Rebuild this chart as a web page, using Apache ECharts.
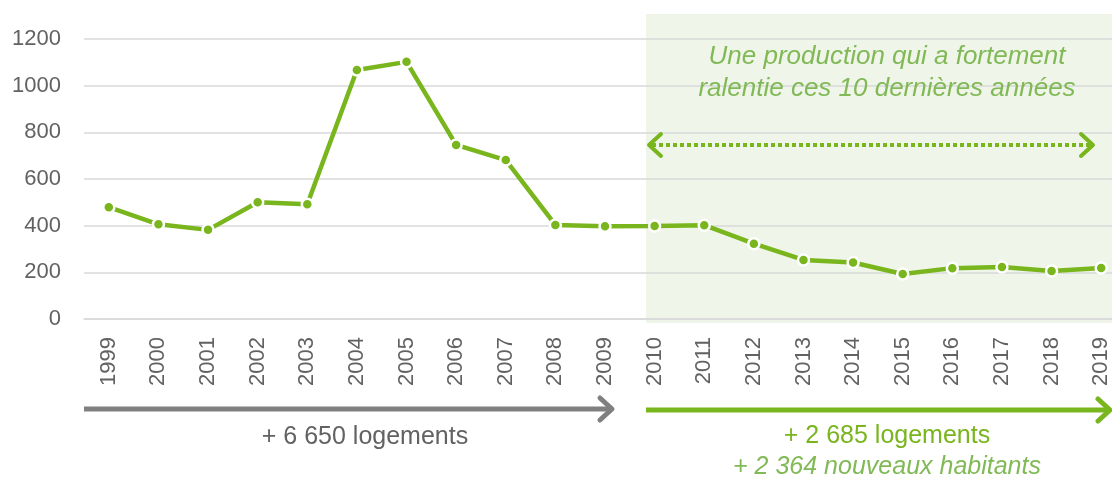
<!DOCTYPE html>
<html>
<head>
<meta charset="utf-8">
<script src="https://cdn.jsdelivr.net/npm/echarts@6/dist/echarts.min.js"></script>
<style>
  html, body { margin: 0; padding: 0; background: #fff; }
  #chart { width: 1112px; height: 481px; }
</style>
</head>
<body>
<div id="chart"></div>
<script>
// Logements produits par an
const years = ['1999','2000','2001','2002','2003','2004','2005','2006','2007','2008','2009',
               '2010','2011','2012','2013','2014','2015','2016','2017','2018','2019'];
const logements = [479, 406, 382, 500, 492, 1067, 1102, 746, 681, 403, 398,
                   399, 402, 323, 253, 242, 193, 218, 223, 206, 219];
const yTicks = [0, 200, 400, 600, 800, 1000, 1200];

const GREEN = '#79b51c';
const LIGHT_GREEN = '#80b955';
const GRAY_TEXT = '#626262';
const FONT = '"Liberation Sans", Arial, sans-serif';

const chart = echarts.init(document.getElementById('chart'));

function chevron(x, y, dir, color, w) {
  // open arrow head pointing left (dir=-1) or right (dir=1)
  return {
    type: 'polyline',
    shape: { points: [[x - dir * 12, y - 11], [x, y], [x - dir * 12, y + 11]] },
    style: { stroke: color, lineWidth: w, fill: null, lineCap: 'round', lineJoin: 'round' },
    z: 5
  };
}

function label(x, y, text, color, size, italic) {
  return {
    type: 'text', x: x, y: y, z: 5,
    style: { text: text, fill: color, fontFamily: FONT,
             fontStyle: italic ? 'italic' : 'normal', fontSize: size,
             align: 'center', verticalAlign: 'middle' }
  };
}

chart.setOption({
  animation: false,
  grid: { left: 84, width: 1042, top: 39, height: 280, outerBoundsMode: 'none', containLabel: false },
  xAxis: {
    type: 'category',
    data: years,
    boundaryGap: true,
    axisLine: { show: true, lineStyle: { color: '#d9d9d9', width: 1.5 } },
    axisTick: { show: false },
    axisLabel: {
      rotate: 90, margin: 18, interval: 0,
      color: GRAY_TEXT, fontFamily: FONT, fontSize: 22
    }
  },
  yAxis: {
    type: 'value',
    min: yTicks[0], max: yTicks[yTicks.length - 1], interval: 200,
    axisLine: { show: false },
    axisTick: { show: false },
    splitLine: { lineStyle: { color: '#d9d9d9', width: 1.5 } },
    axisLabel: { margin: 23, color: GRAY_TEXT, fontFamily: FONT, fontSize: 22,
                 formatter: v => String(v) }
  },
  series: [{
    type: 'line',
    data: logements,
    symbol: 'circle',
    symbolSize: 11,
    showAllSymbol: true,
    lineStyle: { color: GREEN, width: 4.5 },
    itemStyle: { color: GREEN, borderColor: '#fff', borderWidth: 2.5 },
    z: 3
  }],
  graphic: [
    // période 2010-2019
    { type: 'rect', shape: { x: 646, y: 14, width: 466, height: 309 },
      style: { fill: '#eff5e9' }, z: -1 },
    label(887, 57, 'Une production qui a fortement', LIGHT_GREEN, 26, true),
    label(887, 89, 'ralentie ces 10 dernières années', LIGHT_GREEN, 26, true),
    { type: 'line', shape: { x1: 652, y1: 145, x2: 1090, y2: 145 },
      style: { stroke: GREEN, lineWidth: 4, lineDash: [4, 3] }, z: 5 },
    chevron(649, 145, -1, GREEN, 4),
    chevron(1093, 145, 1, GREEN, 4),

    // flèches du bas
    { type: 'line', shape: { x1: 84, y1: 409, x2: 610, y2: 409 },
      style: { stroke: '#808080', lineWidth: 5 }, z: 5 },
    chevron(612, 409, 1, '#808080', 5),
    label(365, 437, '+ 6 650 logements', GRAY_TEXT, 25, false),
    { type: 'line', shape: { x1: 646, y1: 410, x2: 1108, y2: 410 },
      style: { stroke: GREEN, lineWidth: 5 }, z: 5 },
    chevron(1110, 410, 1, GREEN, 5),
    label(887, 436, '+ 2 685 logements', GREEN, 25, false),
    label(887, 467, '+ 2 364 nouveaux habitants', LIGHT_GREEN, 25, true)
  ]
});
</script>
</body>
</html>
